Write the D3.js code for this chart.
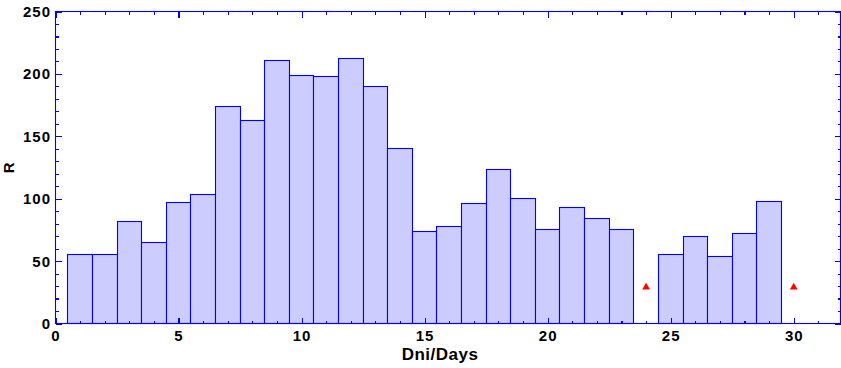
<!DOCTYPE html>
<html>
<head>
<meta charset="utf-8">
<script src="https://cdn.jsdelivr.net/npm/d3@7"></script>
<style>
html,body{margin:0;padding:0;background:#fff;}
svg{display:block;}
.tick-label{font-family:"Liberation Sans",Arial,sans-serif;font-weight:bold;font-size:15px;letter-spacing:1px;fill:#000;}
.axis-title{font-family:"Liberation Sans",Arial,sans-serif;font-weight:bold;font-size:17px;letter-spacing:0.5px;fill:#000;}
</style>
</head>
<body>
<svg id="chart" width="841" height="368"></svg>
<script>
// Data
const days = [1,2,3,4,5,6,7,8,9,10,11,12,13,14,15,16,17,18,19,20,21,22,23,25,26,27,28,29];
const values = [55,55,82,65,97,103,174,163,211,199,198,212,190,140,74,78,96,123,100,75,93,84,75,55,70,54,72,98];
const missingDays = [24,30];
const missingValues = [29,29];
const xTicks = [0,5,10,15,20,25,30];
const yTicks = [0,50,100,150,200,250];

(function(){
const pLeft = 55.5, pRight = 840.5, pTop = 11.5, pBottom = 323.5;
const svg = d3.select("#chart");

const x = d3.scaleLinear().domain([0, 31.9]).range([pLeft, pRight]);
const y = d3.scaleLinear().domain([0, 250]).range([pBottom, pTop]);

const blue = "#0000ff";
const snap = v => Math.round(v - 0.5) + 0.5;

// bars
svg.append("g").selectAll("rect").data(days.map((d,i)=>({d, v: values[i]}))).join("rect")
  .attr("x", d => snap(x(d.d - 0.5)))
  .attr("y", d => snap(y(d.v)))
  .attr("width", d => snap(x(d.d + 0.5)) - snap(x(d.d - 0.5)))
  .attr("height", d => snap(y(0)) - snap(y(d.v)))
  .attr("fill", "#ccccff")
  .attr("stroke", blue)
  .attr("stroke-width", 1.1);

// missing markers
svg.append("g").selectAll("path").data(missingDays.map((d,i)=>({d, v: missingValues[i]}))).join("path")
  .attr("d", d3.symbol().type(d3.symbolTriangle).size(26))
  .attr("transform", d => `translate(${x(d.d)},${y(d.v)})`)
  .attr("fill", "#ff0000");

// frame
svg.append("rect").attr("x", pLeft).attr("y", pTop).attr("width", pRight-pLeft).attr("height", pBottom-pTop)
  .attr("fill","none").attr("stroke", blue).attr("stroke-width",1.1);

const majorLen = 6, minorLen = 3;
const xMinor = d3.range(0, 32).filter(v => !xTicks.includes(v));
const yMinor = d3.range(0, 251, 10).filter(v => !yTicks.includes(v));

function styleAxis(g){
  g.select(".domain").remove();
  g.selectAll(".tick line").attr("stroke", blue).attr("stroke-width", 1.1).attr("shape-rendering","crispEdges");
  g.selectAll(".tick text").remove();
}
svg.append("g").attr("transform",`translate(0,${pBottom})`)
  .call(d3.axisTop(x).tickValues(xTicks).tickSize(majorLen)).call(styleAxis);
svg.append("g").attr("transform",`translate(0,${pBottom})`)
  .call(d3.axisTop(x).tickValues(xMinor).tickSize(minorLen)).call(styleAxis);
svg.append("g").attr("transform",`translate(0,${pTop})`)
  .call(d3.axisBottom(x).tickValues(xTicks).tickSize(majorLen)).call(styleAxis);
svg.append("g").attr("transform",`translate(0,${pTop})`)
  .call(d3.axisBottom(x).tickValues(xMinor).tickSize(minorLen)).call(styleAxis);
svg.append("g").attr("transform",`translate(${pLeft},0)`)
  .call(d3.axisRight(y).tickValues(yTicks).tickSize(majorLen)).call(styleAxis);
svg.append("g").attr("transform",`translate(${pLeft},0)`)
  .call(d3.axisRight(y).tickValues(yMinor).tickSize(minorLen)).call(styleAxis);
svg.append("g").attr("transform",`translate(${pRight},0)`)
  .call(d3.axisLeft(y).tickValues(yTicks).tickSize(majorLen)).call(styleAxis);
svg.append("g").attr("transform",`translate(${pRight},0)`)
  .call(d3.axisLeft(y).tickValues(yMinor).tickSize(minorLen)).call(styleAxis);

// tick labels
svg.append("g").selectAll("text").data(xTicks).join("text")
  .attr("class","tick-label")
  .attr("x", d => x(d) + 0.5)
  .attr("y", 341)
  .attr("text-anchor","middle")
  .text(d => d);
svg.append("g").selectAll("text").data(yTicks).join("text")
  .attr("class","tick-label")
  .attr("x", 51)
  .attr("y", d => y(d))
  .attr("dy", "0.36em")
  .attr("text-anchor","end")
  .text(d => d);

// axis titles
svg.append("text").attr("class","axis-title")
  .attr("x", 440).attr("y", 360).attr("text-anchor","middle").text("Dni/Days");
svg.append("text").attr("class","axis-title")
  .style("font-size","15px")
  .attr("transform", `translate(14,${(pTop+pBottom)/2}) rotate(-90)`)
  .attr("text-anchor","middle").text("R");
})();
</script>
</body>
</html>
